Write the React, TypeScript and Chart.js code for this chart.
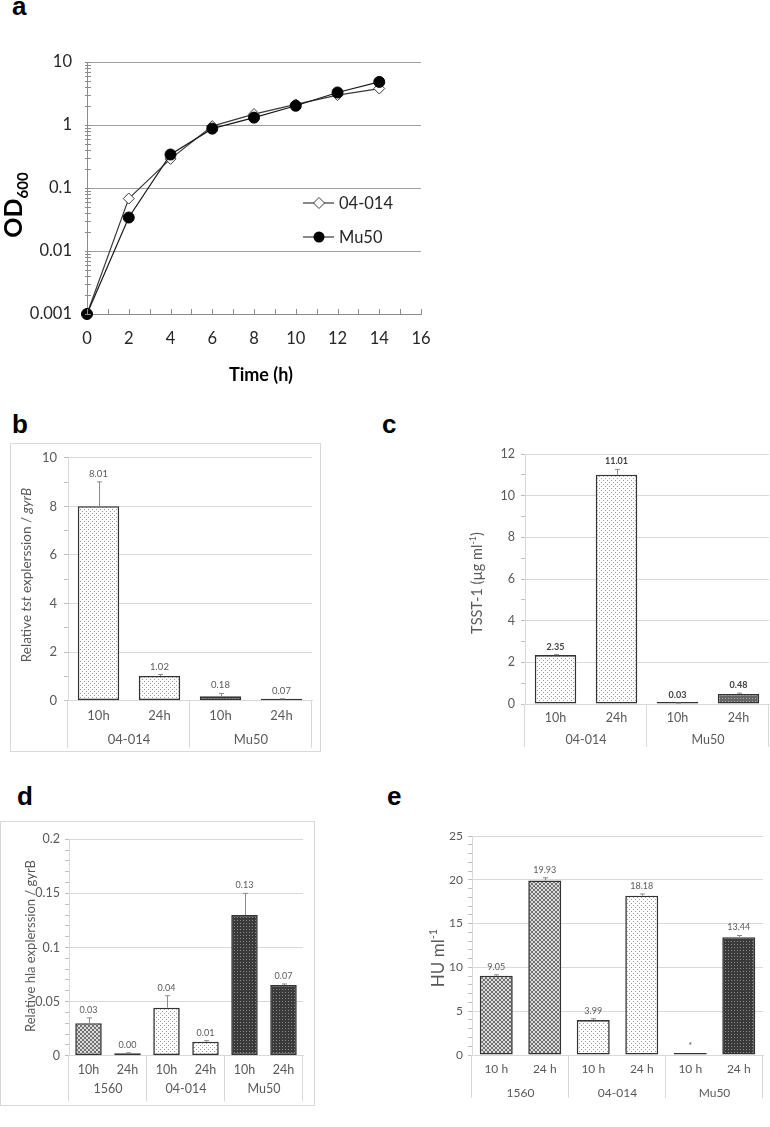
import React, { useEffect, useRef } from 'react';
import { Chart, registerables } from 'chart.js';

Chart.register(...registerables);

const FONT = 'Lato, "Noto Sans", sans-serif';

// ---------- Panel a: growth curves ----------
const growthHours = [0, 2, 4, 6, 8, 10, 12, 14];
const od600Strain04014 = [0.001, 0.068, 0.29, 0.96, 1.49, 2.12, 2.98, 3.79];
const od600Mu50 = [0.001, 0.034, 0.34, 0.875, 1.31, 2.02, 3.28, 4.83];
const growthSeriesNames = ['04-014', 'Mu50'];
const growthYTickLabels = ['0.001', '0.01', '0.1', '1', '10'];
const growthXTickLabels = ['0', '2', '4', '6', '8', '10', '12', '14', '16'];

// ---------- Panel b: tst expression ----------
const tstCategories = ['10h', '24h', '10h', '24h'];
const tstGroups = ['04-014', 'Mu50'];
const tstValues = [8.01, 1.02, 0.18, 0.07];
const tstErrors = [1.0, 0.06, 0.12, 0.01];
const tstLabels = ['8.01', '1.02', '0.18', '0.07'];
const tstYTickLabels = ['0', '2', '4', '6', '8', '10'];

// ---------- Panel c: TSST-1 ----------
const tsstCategories = ['10h', '24h', '10h', '24h'];
const tsstGroups = ['04-014', 'Mu50'];
const tsstValues = [2.35, 11.01, 0.03, 0.48];
const tsstErrors = [0.02, 0.25, 0.01, 0.04];
const tsstLabels = ['2.35', '11.01', '0.03', '0.48'];
const tsstYTickLabels = ['0', '2', '4', '6', '8', '10', '12'];

// ---------- Panel d: hla expression ----------
const hlaCategories = ['10h', '24h', '10h', '24h', '10h', '24h'];
const hlaGroups = ['1560', '04-014', 'Mu50'];
const hlaValues = [0.03, 0.0022, 0.0444, 0.0129, 0.13, 0.0653];
const hlaErrors = [0.005, 0.0005, 0.011, 0.001, 0.02, 0.001];
const hlaLabels = ['0.03', '0.00', '0.04', '0.01', '0.13', '0.07'];
const hlaYTickLabels = ['0', '0.05', '0.1', '0.15', '0.2'];

// ---------- Panel e: hemolytic units ----------
const huCategories = ['10 h', '24 h', '10 h', '24 h', '10 h', '24 h'];
const huGroups = ['1560', '04-014', 'Mu50'];
const huValues = [9.05, 19.93, 3.99, 18.18, 0.1, 13.44];
const huErrors = [0.1, 0.3, 0.15, 0.2, 0, 0.2];
const huLabels = ['9.05', '19.93', '3.99', '18.18', '*', '13.44'];
const huYTickLabels = ['0', '5', '10', '15', '20', '25'];

type Seg = { t: string; italic?: boolean; sup?: boolean; sub?: boolean; size?: number };

function drawRich(ctx: CanvasRenderingContext2D, segs: Seg[], cx: number, cy: number, size: number, weight: string, color: string, rotate: boolean) {
  ctx.save();
  ctx.translate(cx, cy);
  if (rotate) ctx.rotate(-Math.PI / 2);
  ctx.fillStyle = color;
  ctx.textBaseline = 'alphabetic';
  ctx.textAlign = 'left';
  const fontOf = (s: Seg) => `${s.italic ? 'italic ' : ''}${weight} ${s.size ?? (s.sup || s.sub ? Math.round(size * 0.65) : size)}px ${FONT}`;
  const widths = segs.map((s) => {
    ctx.font = fontOf(s);
    return ctx.measureText(s.t).width;
  });
  const total = widths.reduce((a, b) => a + b, 0);
  let x = -total / 2;
  const base = size * 0.36;
  segs.forEach((s, i) => {
    ctx.font = fontOf(s);
    const dy = s.sup ? -size * 0.4 : s.sub ? size * 0.22 : 0;
    ctx.fillText(s.t, x, base + dy);
    x += widths[i];
  });
  ctx.restore();
}

function makePattern(kind: string): CanvasPattern {
  const c = document.createElement('canvas');
  const g = c.getContext('2d')!;
  if (kind === 'lightDots') {
    c.width = 4; c.height = 4;
    g.fillStyle = '#ffffff'; g.fillRect(0, 0, 4, 4);
    g.fillStyle = '#999999'; g.fillRect(0, 0, 1, 1); g.fillRect(2, 2, 1, 1);
  } else if (kind === 'checker') {
    c.width = 4; c.height = 4;
    g.fillStyle = '#dcdcdc'; g.fillRect(0, 0, 4, 4);
    g.fillStyle = '#707070'; g.fillRect(0, 0, 2, 2); g.fillRect(2, 2, 2, 2);
  } else if (kind === 'darkDots') {
    c.width = 3; c.height = 3;
    g.fillStyle = '#3a3a3a'; g.fillRect(0, 0, 3, 3);
    g.fillStyle = '#8a8a8a'; g.fillRect(0, 0, 1, 1);
  } else {
    c.width = 3; c.height = 3;
    g.fillStyle = '#666666'; g.fillRect(0, 0, 3, 3);
    g.fillStyle = '#aaaaaa'; g.fillRect(0, 0, 1, 1);
  }
  return g.createPattern(c, 'repeat')!;
}

// ---------- Layout ----------
const A_BOX = { x: 0, y: 0, w: 460, h: 395 };
const A_PLOT = { l: 87, t: 62, r: 421, b: 314 };

interface BarPanelSpec {
  box: { x: number; y: number; w: number; h: number };
  plot: { l: number; t: number; r: number; b: number };
  categories: string[];
  groups: string[];
  values: number[];
  errors: number[];
  labels: string[];
  fills: string[];
  yTickLabels: string[];
  yStep: number;
  minorPer: number;
  title: Seg[];
  titleCx: number;
  titleCy: number;
  titleSize: number;
  tickSize: number;
  labelGap: number;
  catDy: number;
  groupDy: number;
  sepLen: number;
  valueFont: { size: number; weight: string; color: string };
  framed: boolean;
}

const PANEL_B: BarPanelSpec = {
  box: { x: 10, y: 443, w: 311, h: 309 },
  plot: { l: 68, t: 456, r: 312, b: 700.7 },
  categories: tstCategories, groups: tstGroups, values: tstValues, errors: tstErrors, labels: tstLabels,
  fills: ['lightDots', 'lightDots', 'darkDots', 'darkDots'],
  yTickLabels: tstYTickLabels, yStep: 2, minorPer: 2,
  title: [{ t: 'Relative ' }, { t: 'tst', italic: true }, { t: ' explerssion / ' }, { t: 'gyrB', italic: true }],
  titleCx: 26, titleCy: 575, titleSize: 13.5,
  tickSize: 13, labelGap: 11, catDy: 15.3, groupDy: 39.3, sepLen: 47,
  valueFont: { size: 9.5, weight: 'normal', color: '#595959' },
  framed: true,
};

const PANEL_C: BarPanelSpec = {
  box: { x: 383, y: 440, w: 387, h: 320 },
  plot: { l: 525, t: 454, r: 769, b: 704 },
  categories: tsstCategories, groups: tsstGroups, values: tsstValues, errors: tsstErrors, labels: tsstLabels,
  fills: ['lightDots', 'lightDots', 'midDots', 'midDots'],
  yTickLabels: tsstYTickLabels, yStep: 2, minorPer: 2,
  title: [{ t: 'TSST-1 (µg ml' }, { t: '-1', sup: true }, { t: ')' }],
  titleCx: 477, titleCy: 583, titleSize: 14.5,
  tickSize: 12.5, labelGap: 10, catDy: 14, groupDy: 36, sepLen: 43,
  valueFont: { size: 9, weight: 'bold', color: '#404040' },
  framed: false,
};

const PANEL_D: BarPanelSpec = {
  box: { x: 0, y: 821, w: 315, h: 285 },
  plot: { l: 69, t: 839.3, r: 303, b: 1055.7 },
  categories: hlaCategories, groups: hlaGroups, values: hlaValues, errors: hlaErrors, labels: hlaLabels,
  fills: ['checker', 'checker', 'lightDots', 'lightDots', 'darkDots', 'darkDots'],
  yTickLabels: hlaYTickLabels, yStep: 0.05, minorPer: 5,
  title: [{ t: 'Relative hla explerssion / gyrB' }],
  titleCx: 30, titleCy: 946, titleSize: 13,
  tickSize: 12.5, labelGap: 9, catDy: 14.3, groupDy: 33.3, sepLen: 46,
  valueFont: { size: 9, weight: 'normal', color: '#595959' },
  framed: true,
};

const PANEL_E: BarPanelSpec = {
  box: { x: 383, y: 815, w: 387, h: 312 },
  plot: { l: 472, t: 836, r: 763, b: 1055 },
  categories: huCategories, groups: huGroups, values: huValues, errors: huErrors, labels: huLabels,
  fills: ['checker', 'checker', 'lightDots', 'lightDots', 'darkDots', 'darkDots'],
  yTickLabels: huYTickLabels, yStep: 5, minorPer: 5,
  title: [{ t: 'HU ml' }, { t: '-1', sup: true }],
  titleCx: 438, titleCy: 958, titleSize: 17,
  tickSize: 12, labelGap: 9, catDy: 14, groupDy: 38, sepLen: 43,
  valueFont: { size: 9, weight: 'normal', color: '#595959' },
  framed: false,
};

function buildGrowthChart(canvas: HTMLCanvasElement) {
  const box = A_BOX, plot = A_PLOT;
  const xTickValues = Array.from({ length: 17 }, (_, i) => i);
  const extras = {
    id: 'growthExtras',
    afterDraw(chart: any) {
      const { ctx, chartArea: area } = chart;
      const xs = chart.scales.x, ys = chart.scales.y;
      ctx.save();
      ctx.strokeStyle = '#8c8c8c';
      ctx.lineWidth = 1;
      ctx.beginPath();
      xs.ticks.forEach((t: any) => {
        const px = Math.round(xs.getPixelForValue(t.value)) + 0.5;
        ctx.moveTo(px, area.bottom);
        ctx.lineTo(px, area.bottom - 5);
      });
      ys.ticks.forEach((t: any) => {
        const py = Math.round(ys.getPixelForValue(t.value)) + 0.5;
        ctx.moveTo(area.left - 2, py);
        ctx.lineTo(area.left + 4, py);
      });
      ctx.stroke();

      // legend
      const legendRows = [
        { name: growthSeriesNames[0], y: 203, kind: 'diamond' },
        { name: growthSeriesNames[1], y: 237, kind: 'circle' },
      ];
      legendRows.forEach((row) => {
        ctx.strokeStyle = '#3a3a3a';
        ctx.lineWidth = 1.2;
        ctx.beginPath();
        ctx.moveTo(303, row.y);
        ctx.lineTo(334, row.y);
        ctx.stroke();
        ctx.beginPath();
        if (row.kind === 'diamond') {
          ctx.moveTo(319, row.y - 5.5);
          ctx.lineTo(324.5, row.y);
          ctx.lineTo(319, row.y + 5.5);
          ctx.lineTo(313.5, row.y);
          ctx.closePath();
          ctx.fillStyle = '#fff';
          ctx.fill();
          ctx.lineWidth = 1;
          ctx.stroke();
        } else {
          ctx.arc(319, row.y, 5.5, 0, Math.PI * 2);
          ctx.fillStyle = '#000';
          ctx.fill();
        }
        ctx.fillStyle = '#262626';
        ctx.font = `16.5px ${FONT}`;
        ctx.textAlign = 'left';
        ctx.textBaseline = 'middle';
        ctx.fillText(row.name, 339, row.y + 1);
      });

      // axis titles
      drawRich(ctx, [{ t: 'Time (h)' }], 261, 375, 18, 'bold', '#000', false);
      drawRich(ctx, [{ t: 'OD', size: 25 }, { t: '600', sub: true, size: 15 }], 13, 205, 25, 'bold', '#000', true);
      ctx.restore();
    },
  };

  return new Chart(canvas, {
    type: 'line',
    data: {
      datasets: [
        {
          label: growthSeriesNames[0],
          data: growthHours.map((h, i) => ({ x: h, y: od600Strain04014[i] })),
          borderColor: '#3a3a3a',
          borderWidth: 1.2,
          pointStyle: 'rectRot',
          pointRadius: 5.5,
          pointBackgroundColor: '#ffffff',
          pointBorderColor: '#3a3a3a',
          pointBorderWidth: 1,
          tension: 0,
          clip: false as any,
          order: 1,
        },
        {
          label: growthSeriesNames[1],
          data: growthHours.map((h, i) => ({ x: h, y: od600Mu50[i] })),
          borderColor: '#1a1a1a',
          borderWidth: 1.2,
          pointStyle: 'circle',
          pointRadius: 5.5,
          pointBackgroundColor: '#000000',
          pointBorderColor: '#000000',
          pointBorderWidth: 1,
          tension: 0,
          clip: false as any,
          order: 0,
        },
      ],
    },
    options: {
      responsive: false,
      animation: false,
      layout: { padding: { left: 0, top: plot.t - box.y, right: box.x + box.w - plot.r, bottom: 0 } },
      plugins: { legend: { display: false }, tooltip: { enabled: false } },
      scales: {
        x: {
          type: 'linear',
          min: 0,
          max: 16,
          afterBuildTicks: (s: any) => {
            s.ticks = xTickValues.map((v) => ({ value: v }));
          },
          ticks: {
            autoSkip: false,
            maxRotation: 0,
            padding: 15,
            font: { family: FONT, size: 16.5 },
            color: '#262626',
            callback: (_v: any, i: number) => (i % 2 === 0 ? growthXTickLabels[i / 2] : ''),
          },
          grid: { display: true, drawTicks: false, color: 'transparent' },
          border: { color: '#8c8c8c' },
          afterFit: (s: any) => {
            s.height = box.y + box.h - plot.b;
          },
        },
        y: {
          type: 'logarithmic',
          min: 0.001,
          max: 10,
          afterBuildTicks: (s: any) => {
            const t: { value: number }[] = [];
            for (let e = -3; e < 1; e++) for (let m = 1; m < 10; m++) t.push({ value: m * Math.pow(10, e) });
            t.push({ value: 10 });
            s.ticks = t;
          },
          ticks: {
            autoSkip: false,
            padding: 15,
            font: { family: FONT, size: 16.5 },
            color: '#262626',
            callback: (_v: any, i: number) => (i % 9 === 0 ? growthYTickLabels[i / 9] : ''),
          },
          grid: { drawTicks: false, color: (c: any) => (c.index % 9 === 0 ? '#a0a0a0' : 'transparent') },
          border: { color: '#8c8c8c' },
          afterFit: (s: any) => {
            s.width = plot.l - box.x;
          },
        },
      },
    } as any,
    plugins: [extras],
  });
}

function buildBarChart(canvas: HTMLCanvasElement, spec: BarPanelSpec, patterns: Record<string, CanvasPattern>) {
  const { box, plot } = spec;
  const yMax = spec.yStep * (spec.yTickLabels.length - 1);
  const nTicks = (spec.yTickLabels.length - 1) * spec.minorPer + 1;
  const extras = {
    id: 'barExtras',
    afterDraw(chart: any) {
      const ctx: CanvasRenderingContext2D = chart.ctx;
      const xs = chart.scales.x, ys = chart.scales.y;
      const area = chart.chartArea;
      const meta = chart.getDatasetMeta(0);
      ctx.save();
      spec.values.forEach((v, i) => {
        const bar = meta.data[i] as any;
        const px = Math.round(bar.x) + 0.5;
        const yVal = ys.getPixelForValue(v);
        const yTop = ys.getPixelForValue(v + spec.errors[i]);
        if (spec.errors[i] > 0) {
          ctx.strokeStyle = '#8c8c8c';
          ctx.lineWidth = 1;
          ctx.beginPath();
          ctx.moveTo(px, yVal);
          ctx.lineTo(px, yTop);
          ctx.moveTo(px - 2.5, yTop);
          ctx.lineTo(px + 2.5, yTop);
          ctx.stroke();
        }
        ctx.fillStyle = spec.valueFont.color;
        ctx.font = `${spec.valueFont.weight} ${spec.valueFont.size}px ${FONT}`;
        ctx.textAlign = 'center';
        ctx.textBaseline = 'middle';
        ctx.fillText(spec.labels[i], bar.x, Math.min(yTop, yVal) - 8);
      });

      const n = spec.categories.length;
      const half = (xs.getPixelForValue(1) - xs.getPixelForValue(0)) / 2;
      const per = n / spec.groups.length;
      ctx.strokeStyle = '#d9d9d9';
      ctx.lineWidth = 1;
      ctx.beginPath();
      for (let g = 0; g <= spec.groups.length; g++) {
        const idx = g * per;
        const sx = idx < n ? xs.getPixelForValue(idx) - half : xs.getPixelForValue(n - 1) + half;
        const lx = Math.round(sx) - 0.5;
        ctx.moveTo(lx, area.bottom);
        ctx.lineTo(lx, area.bottom + spec.sepLen);
      }
      ctx.stroke();
      ctx.fillStyle = '#595959';
      ctx.font = `${spec.tickSize}px ${FONT}`;
      ctx.textAlign = 'center';
      ctx.textBaseline = 'middle';
      spec.groups.forEach((name, g) => {
        const cx = (xs.getPixelForValue(g * per) + xs.getPixelForValue(g * per + per - 1)) / 2;
        ctx.fillText(name, cx, area.bottom + spec.groupDy);
      });
      drawRich(ctx, spec.title, spec.titleCx - box.x, spec.titleCy - box.y, spec.titleSize, 'normal', '#595959', true);
      ctx.restore();
    },
  };

  return new Chart(canvas, {
    type: 'bar',
    data: {
      labels: spec.categories,
      datasets: [
        {
          data: spec.values,
          backgroundColor: spec.fills.map((k) => patterns[k]),
          borderColor: '#333333',
          borderWidth: 1.6,
          borderSkipped: false,
          minBarLength: 2,
          barPercentage: 0.68,
          categoryPercentage: 1,
        },
      ],
    },
    options: {
      responsive: false,
      animation: false,
      layout: { padding: { left: 0, top: plot.t - box.y, right: box.x + box.w - plot.r, bottom: 0 } },
      plugins: { legend: { display: false }, tooltip: { enabled: false } },
      scales: {
        x: {
          ticks: {
            autoSkip: false,
            maxRotation: 0,
            padding: spec.catDy - 0.6 * spec.tickSize,
            font: { family: FONT, size: spec.tickSize },
            color: '#595959',
          },
          grid: { display: true, drawTicks: false, color: 'transparent' },
          border: { color: '#d9d9d9' },
          afterFit: (s: any) => {
            s.height = box.y + box.h - plot.b;
          },
        },
        y: {
          min: 0,
          max: yMax,
          afterBuildTicks: (s: any) => {
            s.ticks = Array.from({ length: nTicks }, (_, i) => ({ value: (i * spec.yStep) / spec.minorPer }));
          },
          ticks: {
            autoSkip: false,
            padding: spec.labelGap - 4,
            font: { family: FONT, size: spec.tickSize },
            color: '#595959',
            callback: (_v: any, i: number) => (i % spec.minorPer === 0 ? spec.yTickLabels[i / spec.minorPer] : ''),
          },
          grid: {
            color: (c: any) => (c.index % spec.minorPer === 0 ? '#d9d9d9' : 'transparent'),
            tickColor: '#bfbfbf',
            tickLength: 4,
          },
          border: { color: '#d9d9d9' },
          afterFit: (s: any) => {
            s.width = plot.l - box.x;
          },
        },
      },
    } as any,
    plugins: [extras],
  });
}

const PANEL_LABELS = [
  { t: 'a', x: 12, y: -7 },
  { t: 'b', x: 12, y: 411 },
  { t: 'c', x: 382, y: 411 },
  { t: 'd', x: 17, y: 783 },
  { t: 'e', x: 387, y: 783 },
];

export default function App() {
  const aRef = useRef<HTMLCanvasElement>(null);
  const bRef = useRef<HTMLCanvasElement>(null);
  const cRef = useRef<HTMLCanvasElement>(null);
  const dRef = useRef<HTMLCanvasElement>(null);
  const eRef = useRef<HTMLCanvasElement>(null);

  useEffect(() => {
    const patterns: Record<string, CanvasPattern> = {
      lightDots: makePattern('lightDots'),
      checker: makePattern('checker'),
      darkDots: makePattern('darkDots'),
      midDots: makePattern('midDots'),
    };
    const charts = [
      buildGrowthChart(aRef.current!),
      buildBarChart(bRef.current!, PANEL_B, patterns),
      buildBarChart(cRef.current!, PANEL_C, patterns),
      buildBarChart(dRef.current!, PANEL_D, patterns),
      buildBarChart(eRef.current!, PANEL_E, patterns),
    ];
    return () => charts.forEach((c) => c.destroy());
  }, []);

  const panels: [React.RefObject<HTMLCanvasElement>, { x: number; y: number; w: number; h: number }, boolean][] = [
    [aRef, A_BOX, false],
    [bRef, PANEL_B.box, PANEL_B.framed],
    [cRef, PANEL_C.box, PANEL_C.framed],
    [dRef, PANEL_D.box, PANEL_D.framed],
    [eRef, PANEL_E.box, PANEL_E.framed],
  ];

  return (
    <div style={{ position: 'absolute', left: 0, top: 0, width: 770, height: 1127, background: '#fff', overflow: 'hidden' }}>
      {PANEL_LABELS.map((p) => (
        <div
          key={p.t}
          style={{
            position: 'absolute',
            left: p.x,
            top: p.y,
            font: 'bold 26px "Liberation Sans", Arial, sans-serif',
            lineHeight: '26px',
            color: '#000',
          }}
        >
          {p.t}
        </div>
      ))}
      {panels.map(([ref, box, framed], i) => (
        <React.Fragment key={i}>
          {framed && (
            <div
              style={{
                position: 'absolute',
                left: box.x,
                top: box.y,
                width: box.w,
                height: box.h,
                border: '1px solid #d9d9d9',
                boxSizing: 'border-box',
              }}
            />
          )}
          <canvas
            ref={ref}
            width={box.w}
            height={box.h}
            style={{ position: 'absolute', left: box.x, top: box.y, width: box.w, height: box.h }}
          />
        </React.Fragment>
      ))}
    </div>
  );
}
